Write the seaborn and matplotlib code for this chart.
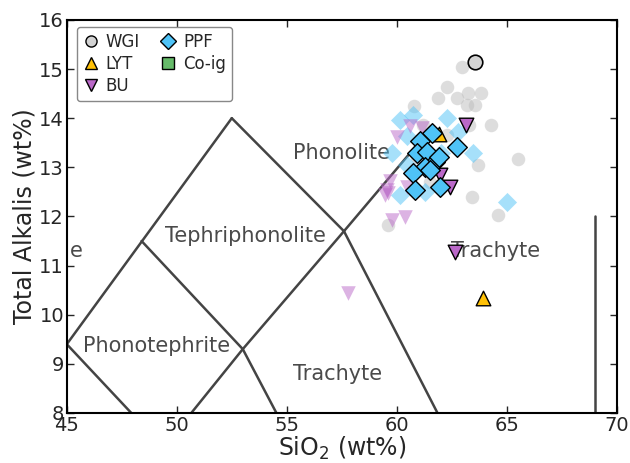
import numpy as np
import pandas as pd
import matplotlib
matplotlib.use("Agg")
import matplotlib.pyplot as plt
from matplotlib.lines import Line2D
import seaborn as sns

# ---------------- data ----------------
# background (all samples, faded)
wgi_bg_x = [62.95, 62.27, 61.86, 62.73, 63.23, 63.82, 63.18, 63.55, 60.77, 64.3, 63.3, 65.5,
            63.68, 61.18, 62.27, 63.4, 64.6, 59.6, 60.9, 61.5]
wgi_bg_y = [15.04, 14.63, 14.41, 14.41, 14.51, 14.51, 14.27, 14.27, 14.24, 13.86, 13.86, 13.16,
            13.04, 13.86, 13.65, 12.39, 12.02, 11.82, 13.2, 12.7]
ppf_bg_x = [60.14, 60.73, 62.27, 63.45, 60.45, 59.8, 62.77, 65.0, 60.14, 61.27, 60.45, 62.0]
ppf_bg_y = [13.96, 14.06, 14.0, 13.29, 13.63, 13.29, 13.71, 12.29, 12.43, 12.49, 13.04, 13.3]
bu_bg_x = [60.0, 60.6, 61.14, 59.68, 59.55, 59.45, 60.45, 59.77, 60.36, 59.6, 57.77]
bu_bg_y = [13.61, 13.84, 13.8, 12.73, 12.53, 12.43, 12.59, 11.92, 11.98, 12.47, 10.45]

# highlighted samples
wgi_x = [63.55]
wgi_y = [15.14]
lyt_x = [61.9, 63.9]
lyt_y = [13.67, 10.35]
bu_x = [63.14, 61.95, 62.4, 62.64]
bu_y = [13.86, 12.85, 12.59, 11.27]
ppf_x = [61.6, 61.05, 62.73, 60.9, 61.36, 61.73, 61.27, 60.73, 61.95, 60.82, 61.5, 61.9]
ppf_y = [13.69, 13.53, 13.41, 13.29, 13.31, 13.1, 13.0, 12.88, 12.59, 12.53, 12.95, 13.2]

# TAS field boundaries (Le Bas et al.)
tas_lines = [
    ([45.0, 52.5], [9.4, 14.0]),
    ([52.5, 57.6], [14.0, 11.7]),
    ([57.6, 61.0], [11.7, 13.5]),
    ([48.4, 53.0], [11.5, 9.3]),
    ([45.0, 49.4], [9.4, 7.3]),
    ([53.0, 57.6], [9.3, 11.7]),
    ([53.0, 49.4], [9.3, 7.3]),
    ([53.0, 57.0], [9.3, 5.9]),
    ([57.6, 63.0], [11.7, 7.0]),
    ([69.0, 69.0], [8.0, 12.0]),
]
field_names = ["Phonolite", "Tephriphonolite", "Phonotephrite", "Trachyte", "Trachyte"]
field_x = [57.5, 53.1, 49.1, 57.3, 64.5]
field_y = [13.3, 11.6, 9.37, 8.8, 11.3]
# partially visible label at the left edge
edge_text = "e"
edge_x, edge_y = 45.15, 11.3

legend_labels = ["WGI", "LYT", "BU", "PPF", "Co-ig"]

# ---------------- style ----------------
sns.set_style("white")
plt.rcParams.update({
    "font.family": ["DejaVu Sans"],
    "xtick.direction": "in", "ytick.direction": "in",
    "xtick.top": True, "ytick.right": True,
    "xtick.bottom": True, "ytick.left": True,
    "xtick.major.size": 5, "ytick.major.size": 5,
    "xtick.major.width": 1.0, "ytick.major.width": 1.0,
    "axes.edgecolor": "black", "axes.linewidth": 1.5,
})

c_gray = "#d3d3d3"
c_gold = "#FFC107"
c_orchid = "#BA68C8"
c_blue = "#4FC3F7"
c_green = "#66BB6A"

fig = plt.figure(figsize=(6.3, 4.63), dpi=100)
ax = fig.add_axes([0.106, 0.108, 0.873, 0.849])

for xs, ys in tas_lines:
    sns.lineplot(x=xs, y=ys, ax=ax, color="#444444", lw=1.8, sort=False,
                 estimator=None, zorder=1)

for name, fx, fy in zip(field_names, field_x, field_y):
    ax.text(fx, fy, name, fontsize=15, color="#4a4a4a", ha="center", va="center",
            clip_on=True, zorder=2)
ax.text(edge_x, edge_y, edge_text, fontsize=15, color="#4a4a4a", ha="left", va="center",
        clip_on=True, zorder=2)

# faded background
sns.scatterplot(x=wgi_bg_x, y=wgi_bg_y, ax=ax, color="#bdbdbd", alpha=0.5,
                marker="o", s=95, linewidth=0, zorder=3)
sns.scatterplot(x=ppf_bg_x, y=ppf_bg_y, ax=ax, color=c_blue, alpha=0.5,
                marker="D", s=95, linewidth=0, zorder=3)
sns.scatterplot(x=bu_bg_x, y=bu_bg_y, ax=ax, color=c_orchid, alpha=0.5,
                marker="v", s=110, linewidth=0, zorder=3)

# highlighted
sns.scatterplot(x=wgi_x, y=wgi_y, ax=ax, color=c_gray, marker="o", s=110,
                edgecolor="black", linewidth=1.2, zorder=5)
sns.scatterplot(x=lyt_x, y=lyt_y, ax=ax, color=c_gold, marker="^", s=110,
                edgecolor="black", linewidth=1.0, zorder=4)
sns.scatterplot(x=bu_x, y=bu_y, ax=ax, color=c_orchid, marker="v", s=110,
                edgecolor="black", linewidth=1.0, zorder=5)
sns.scatterplot(x=ppf_x, y=ppf_y, ax=ax, color=c_blue, marker="D", s=100,
                edgecolor="black", linewidth=1.0, zorder=6)

ax.set_xlim(45, 70)
ax.set_ylim(8, 16)
ax.set_xticks([45, 50, 55, 60, 65, 70])
ax.set_yticks([8, 9, 10, 11, 12, 13, 14, 15, 16])
ax.tick_params(labelsize=14, pad=2)
ax.set_xlabel("SiO$_2$ (wt%)", fontsize=17, labelpad=0)
ax.set_ylabel("Total Alkalis (wt%)", fontsize=17, labelpad=2)

markers = ["o", "^", "v", "D", "s"]
colors = [c_gray, c_gold, c_orchid, c_blue, c_green]
handles = [Line2D([0], [0], marker=m, color="none", markerfacecolor=c,
                  markeredgecolor="black", markeredgewidth=1.0, markersize=8, linestyle="none")
           for m, c in zip(markers, colors)]
leg = ax.legend(handles, legend_labels, loc="upper left", ncol=2, fontsize=12,
                frameon=True, edgecolor="#888888", fancybox=True, framealpha=1,
                handlelength=1.0, handletextpad=0.4, columnspacing=1.2,
                labelspacing=0.25, borderpad=0.35, borderaxespad=0,
                bbox_to_anchor=(0.018, 0.982))
leg.set_zorder(10)

fig.savefig("out.png", dpi=100)
